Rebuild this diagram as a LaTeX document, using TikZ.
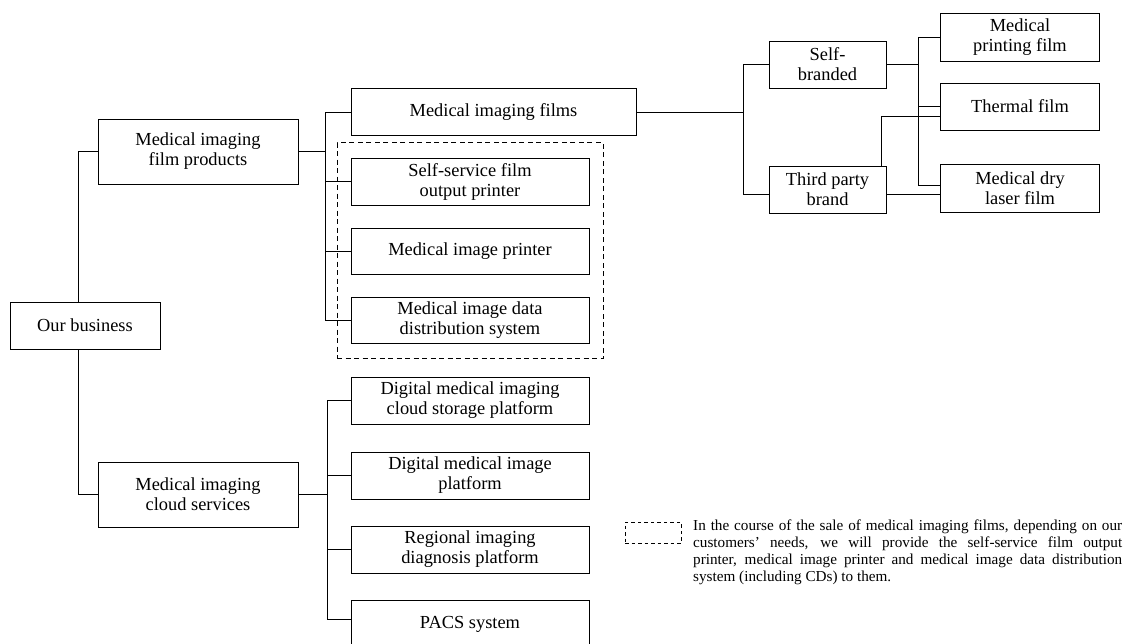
\documentclass[tikz,border=0pt]{standalone}
\usepackage{fontspec}
\setmainfont{Liberation Serif}
\usepackage{tikz}
\usetikzlibrary{positioning, fit}

\tikzset{
  box/.style={draw, line width=1pt, align=center, inner sep=0pt,
    font=\fontsize{18.4}{20}\selectfont},
  link/.style={line width=0.9pt},
  dashline/.style={line width=0.9pt, dash pattern=on 5pt off 3.5pt}
}

\begin{document}
\begin{tikzpicture}[x=1pt, y=-1pt]
\useasboundingbox (0,0) rectangle (1132,643);

% Top level
\node[box, minimum width=150pt, minimum height=47pt] (ob) at (85,325.5) {Our business};
\node[box, minimum width=200pt, minimum height=65pt] (fprod) at (198,151.5) {Medical imaging\\film products};
\node[box, minimum width=200pt, minimum height=65pt] (cloud) at (198,494.5) {Medical imaging\\cloud services};

% Film products
\node[box, minimum width=285pt, minimum height=47pt] (mfilms) at (493.5,112) {Medical imaging films};
\node[box, minimum width=238pt, minimum height=47pt] (sfop) at (470,181.5) {Self-service film\\output printer};
\node[box, minimum width=238pt, minimum height=46pt] (mip) at (470,251) {Medical image printer};
\node[box, minimum width=238pt, minimum height=46pt] (midd) at (470,320) {Medical image data\\distribution system};
\node[dashline, fit=(sfop)(midd), inner xsep=13.5pt, inner ysep=15pt, draw] (frame) {};

% Cloud services
\node[box, minimum width=238pt, minimum height=47pt] (dmic) at (470,400.5) {Digital medical imaging\\cloud storage platform};
\node[box, minimum width=238pt, minimum height=47pt] (dmip) at (470,475.5) {Digital medical image\\platform};
\node[box, minimum width=238pt, minimum height=47pt] (ridp) at (470,549.5) {Regional imaging\\diagnosis platform};
\node[box, minimum width=238pt, minimum height=47pt] (pacs) at (470,624) {PACS system};

% Brands and films
\node[box, minimum width=117pt, minimum height=47pt] (selfb) at (827.5,64.5) {Self-\\branded};
\node[box, minimum width=117pt, minimum height=47pt] (thirdp) at (827.5,189.5) {Third party\\brand};
\node[box, minimum width=159pt, minimum height=48pt] (mpf) at (1020,37) {Medical\\printing film};
\node[box, minimum width=159pt, minimum height=47pt] (thermal) at (1020,106.5) {Thermal film};
\node[box, minimum width=159pt, minimum height=48pt] (drylaser) at (1020,188) {Medical dry\\laser film};

% Connectors
\draw[link] ([xshift=-7pt]ob.north) |- (fprod.west);
\draw[link] ([xshift=-7pt]ob.south) |- (cloud.west);

\coordinate (j1) at (325,151.5);
\draw[link] (fprod.east) -- (j1);
\foreach \n in {mfilms,sfop,mip,midd}
  \draw[link] (j1) |- (\n.west);

\coordinate (j4) at (327,494.5);
\draw[link] (cloud.east) -- (j4);
\foreach \n in {dmic,dmip,ridp}
  \draw[link] (j4) |- (\n.west);
\draw[link] (j4) |- ([yshift=5pt]pacs.west);

\coordinate (j2) at (743,112);
\draw[link] (mfilms.east) -- (j2);
\draw[link] (j2) |- (selfb.west);
\draw[link] (j2) |- ([yshift=-4.5pt]thirdp.west);

\coordinate (j3) at (918,64.5);
\draw[link] (selfb.east) -- (j3);
\draw[link] (j3) |- (mpf.west);
\draw[link] (j3) |- (thermal.west);
\draw[link] (j3) |- ([yshift=3pt]drylaser.west);
\draw[link] ([xshift=-5pt]thirdp.north east) |- ([yshift=-9.5pt]thermal.west);
\draw[link] ([yshift=-4.5pt]thirdp.east) -- ([yshift=-4.5pt]thirdp.east -| drylaser.west);

% Legend
\node[dashline, draw, dash pattern=on 3.5pt off 3pt, minimum width=56pt, minimum height=21pt, inner sep=0pt] (key) at (653,532.5) {};
\node[anchor=north west, text width=429pt, align=justify, inner sep=0pt,
  font=\fontsize{15.2}{16.7}\selectfont] (note) at (693,520)
  {\tolerance=9999\hyphenpenalty=10000 In the course of the sale of medical imaging films, depending on our\linebreak{} customers’ needs, we will provide the self-service film output\linebreak{} printer, medical image printer and medical image data distribution\linebreak{} system (including CDs) to them.};
\end{tikzpicture}
\end{document}
